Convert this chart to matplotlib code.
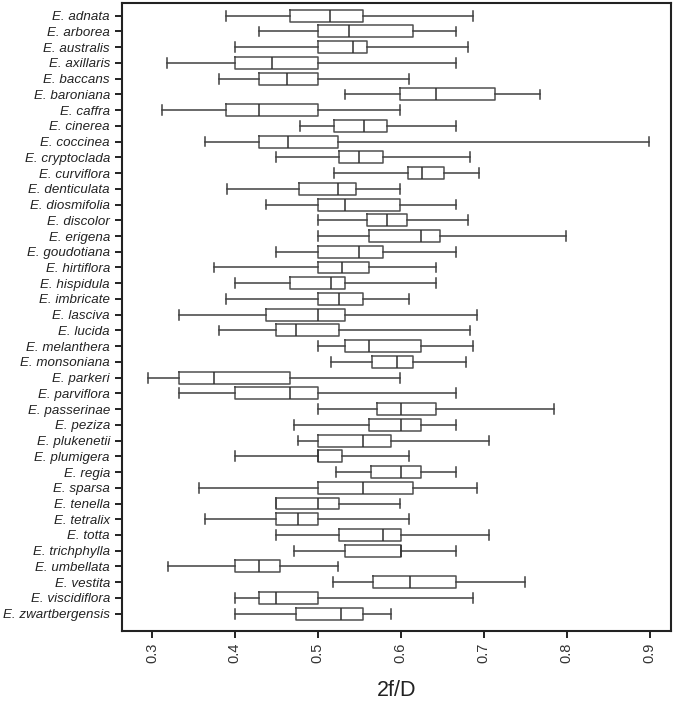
import matplotlib
matplotlib.use("Agg")
import matplotlib.pyplot as plt

plt.rcParams['font.family'] = ['Liberation Sans', 'DejaVu Sans']

species = ["adnata", "arborea", "australis", "axillaris", "baccans", "baroniana",
           "caffra", "cinerea", "coccinea", "cryptoclada", "curviflora", "denticulata",
           "diosmifolia", "discolor", "erigena", "goudotiana", "hirtiflora", "hispidula",
           "imbricate", "lasciva", "lucida", "melanthera", "monsoniana", "parkeri",
           "parviflora", "passerinae", "peziza", "plukenetii", "plumigera", "regia",
           "sparsa", "tenella", "tetralix", "totta", "trichphylla", "umbellata",
           "vestita", "viscidiflora", "zwartbergensis"]

whislo = [0.389, 0.429, 0.400, 0.318, 0.381, 0.533, 0.312, 0.479, 0.364, 0.450,
          0.519, 0.391, 0.437, 0.500, 0.500, 0.450, 0.375, 0.400, 0.389, 0.333,
          0.381, 0.500, 0.516, 0.295, 0.333, 0.500, 0.471, 0.476, 0.400, 0.522,
          0.357, 0.450, 0.364, 0.450, 0.471, 0.320, 0.518, 0.400, 0.400]
q1 = [0.466, 0.500, 0.500, 0.400, 0.429, 0.599, 0.389, 0.520, 0.429, 0.526,
      0.609, 0.477, 0.500, 0.559, 0.562, 0.500, 0.500, 0.466, 0.500, 0.437,
      0.450, 0.533, 0.565, 0.333, 0.400, 0.571, 0.562, 0.500, 0.500, 0.564,
      0.500, 0.450, 0.450, 0.526, 0.533, 0.400, 0.567, 0.429, 0.474]
med = [0.515, 0.538, 0.542, 0.445, 0.463, 0.643, 0.429, 0.556, 0.464, 0.550,
       0.625, 0.524, 0.533, 0.583, 0.624, 0.550, 0.529, 0.516, 0.526, 0.500,
       0.474, 0.562, 0.596, 0.375, 0.466, 0.600, 0.600, 0.555, 0.500, 0.600,
       0.554, 0.500, 0.476, 0.579, 0.600, 0.429, 0.611, 0.450, 0.528]
q3 = [0.555, 0.615, 0.559, 0.500, 0.500, 0.714, 0.500, 0.583, 0.524, 0.579,
      0.652, 0.546, 0.599, 0.608, 0.647, 0.579, 0.562, 0.533, 0.555, 0.533,
      0.526, 0.624, 0.615, 0.466, 0.500, 0.642, 0.624, 0.588, 0.529, 0.624,
      0.615, 0.526, 0.500, 0.600, 0.600, 0.455, 0.666, 0.500, 0.555]
whishi = [0.687, 0.666, 0.681, 0.666, 0.610, 0.768, 0.599, 0.666, 0.899, 0.684,
          0.694, 0.599, 0.666, 0.681, 0.799, 0.666, 0.642, 0.642, 0.610, 0.692,
          0.684, 0.687, 0.679, 0.599, 0.666, 0.785, 0.666, 0.706, 0.610, 0.666,
          0.692, 0.599, 0.610, 0.706, 0.666, 0.524, 0.750, 0.687, 0.588]

xticks = [0.3, 0.4, 0.5, 0.6, 0.7, 0.8, 0.9]

stats = []
for i in range(len(species)):
    stats.append({"label": "E. " + species[i], "whislo": whislo[i], "q1": q1[i],
                  "med": med[i], "q3": q3[i], "whishi": whishi[i], "fliers": []})

fig = plt.figure(figsize=(6.76, 7.01), dpi=100)
ax = fig.add_axes([0.1805, 0.0999, 0.8121, 0.8965])

pos = list(range(1, len(species) + 1))
col = '#404040'
ax.bxp(stats, positions=pos, vert=False, widths=0.76, capwidths=0.62,
       showfliers=False,
       boxprops=dict(color='#505050', linewidth=1.1),
       medianprops=dict(color='#303030', linewidth=1.1),
       whiskerprops=dict(color=col, linewidth=1.1),
       capprops=dict(color=col, linewidth=1.1))

ax.set_ylim(len(species) + 1.1, 1 - 0.84)
ax.set_xlim(0.264, 0.9257)
ax.set_xticks(xticks)
ax.set_xticklabels([str(t) for t in xticks], rotation=90, fontsize=10.5, color='#333333')
ax.set_yticks(pos)
ax.set_yticklabels([s["label"] for s in stats], fontstyle='italic', fontsize=9.6,
                   color='#222222')
ax.tick_params(axis='both', length=5.2, width=1.4, pad=3.5, color='#222222')
for sp in ax.spines.values():
    sp.set_linewidth(1.5)
    sp.set_color('#222222')
ax.set_xlabel("2f/D", fontsize=15.5, color='#222222', labelpad=12)

fig.savefig("out.png", dpi=100)
